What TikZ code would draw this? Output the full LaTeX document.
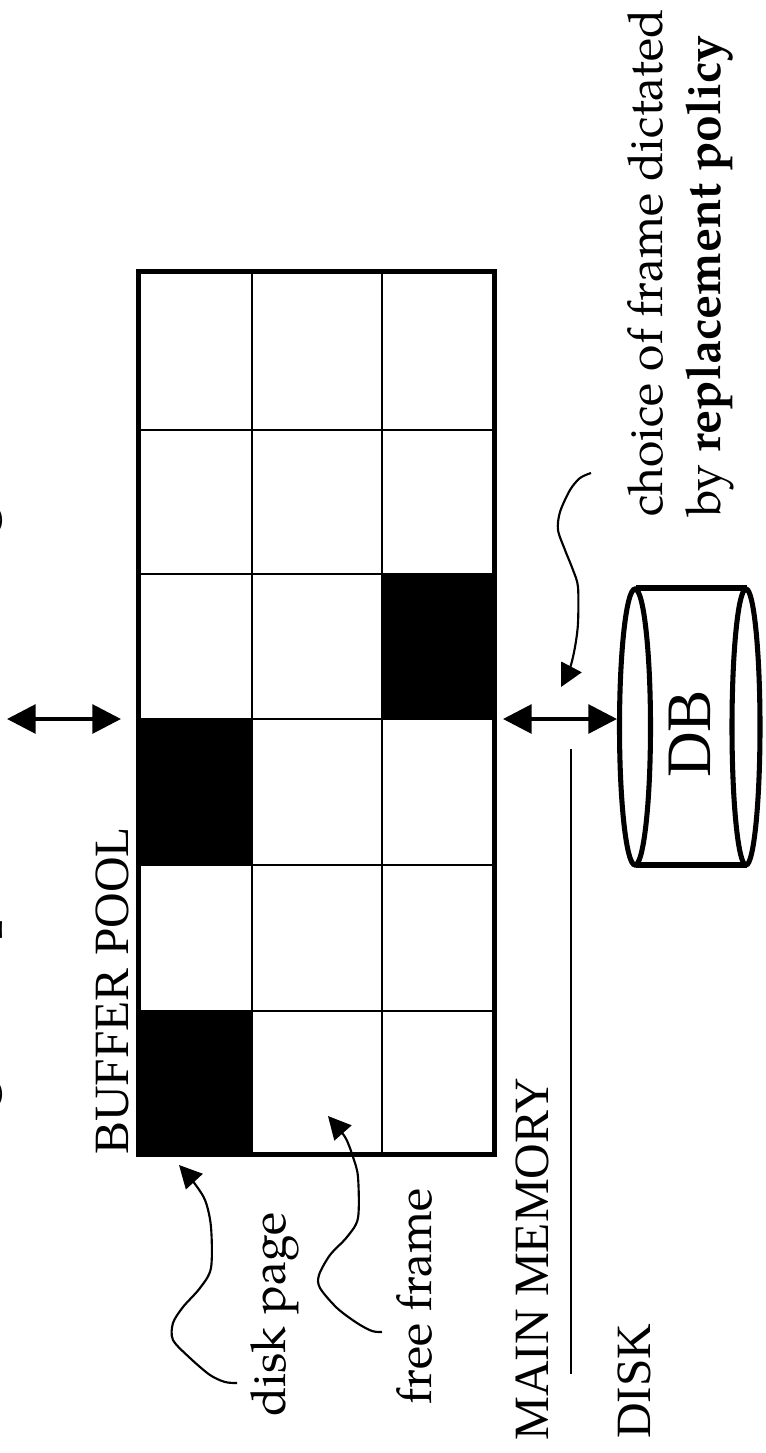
\documentclass[tikz,border=0pt]{standalone}
\usepackage{fontspec}
\setmainfont{TeX Gyre Pagella}
\newfontfamily\capsfont{Liberation Serif}
\usetikzlibrary{arrows.meta}
\tikzset{
  x=0.75pt,y=-0.75pt,
  lab/.style={rotate=90,anchor=base west,inner sep=0pt,font=\fontsize{36}{40}\selectfont},
  caplab/.style={rotate=90,anchor=base west,inner sep=0pt,font=\capsfont\fontsize{37}{40}\selectfont},
  bigarrow/.style={line width=3pt,{Triangle[length=21.5pt,width=21.5pt]}-{Triangle[length=21.5pt,width=21.5pt]}},
  note/.style={line width=1.6pt,-{Triangle[length=17pt,width=17pt]}},
  thin grid/.style={line width=2pt},
  thick outline/.style={line width=3.8pt},
}
\begin{document}
\begin{tikzpicture}
\useasboundingbox (0,0) rectangle (765,1453);
% cells
\fill (138,719) rectangle (252,865);
\fill (138,1011) rectangle (252,1155);
\fill (382,574) rectangle (495,719);
% grid
\draw[thin grid] (252,270) -- (252,1155);
\draw[thin grid] (382,270) -- (382,1155);
\foreach \yy in {430,574,719,865,1011} \draw[thin grid] (138,\yy) -- (495,\yy);
\node[draw,thick outline,outer sep=0pt,minimum width=267pt,minimum height=662.25pt,inner sep=0pt,anchor=north west] (pool) at (138.5,271.5) {};
% arrows
\coordinate (reqa) at (7,719); \coordinate (reqb) at (121,719);
\draw[bigarrow] (reqa) -- (reqb);
\coordinate (dba) at (503,719); \coordinate (dbb) at (617,719);
\draw[bigarrow] (dba) -- (dbb);
% divider
\coordinate (diva) at (571,749); \coordinate (divb) at (571,1374);
\draw[line width=1.5pt] (diva) -- (divb);
% cylinder
\draw[line width=3.8pt] (636,588) -- (747,588) (636,865) -- (747,865);
\draw[line width=3.8pt] (635,727) ellipse [x radius=15.5,y radius=138];
\draw[line width=3.8pt] (746,727) ellipse [x radius=14,y radius=138];
% curves
\draw[note] plot[smooth,tension=0.5] coordinates {(237,1383) (225,1382) (210,1375) (190,1358) (173,1340) (173,1323) (183,1307) (200,1288) (211,1268) (211,1227) (205,1200) (192,1180) (179,1165)};
\draw[note] plot[smooth,tension=0.5] coordinates {(382,1332) (372,1331) (357,1323) (337,1308) (320,1288) (319,1275) (330,1255) (347,1237) (358,1218) (358,1177) (353,1157) (345,1137) (328,1116)};
\draw[note] plot[smooth,tension=0.5] coordinates {(591,473) (580,478) (570,490) (560,512) (558,530) (565,550) (573,570) (578,587) (578,623) (575,647) (570,668) (561,687)};
% texts
\node[caplab] (bp) at (128,1155) {BUFFER POOL};
\node[caplab] (mm) at (548,1441) {MAIN MEMORY};
\node[caplab] (disk) at (650,1439) {DISK};
\node[caplab,font=\capsfont\fontsize{47.5}{50}\selectfont] (db) at (710,778) {DB};
\node[lab] (dp) at (285,1417) {disk page};
\node[lab] (ff) at (431,1405) {free frame};
\node[lab] (ch) at (662,517) {choice of frame dictated};
\node[lab] (by) at (720,517) {by \textbf{replacement policy}};
\node[lab,font=\fontsize{48}{52}\selectfont] (req) at (-15,1179) {Page Requests from Higher Levels};
\end{tikzpicture}
\end{document}
